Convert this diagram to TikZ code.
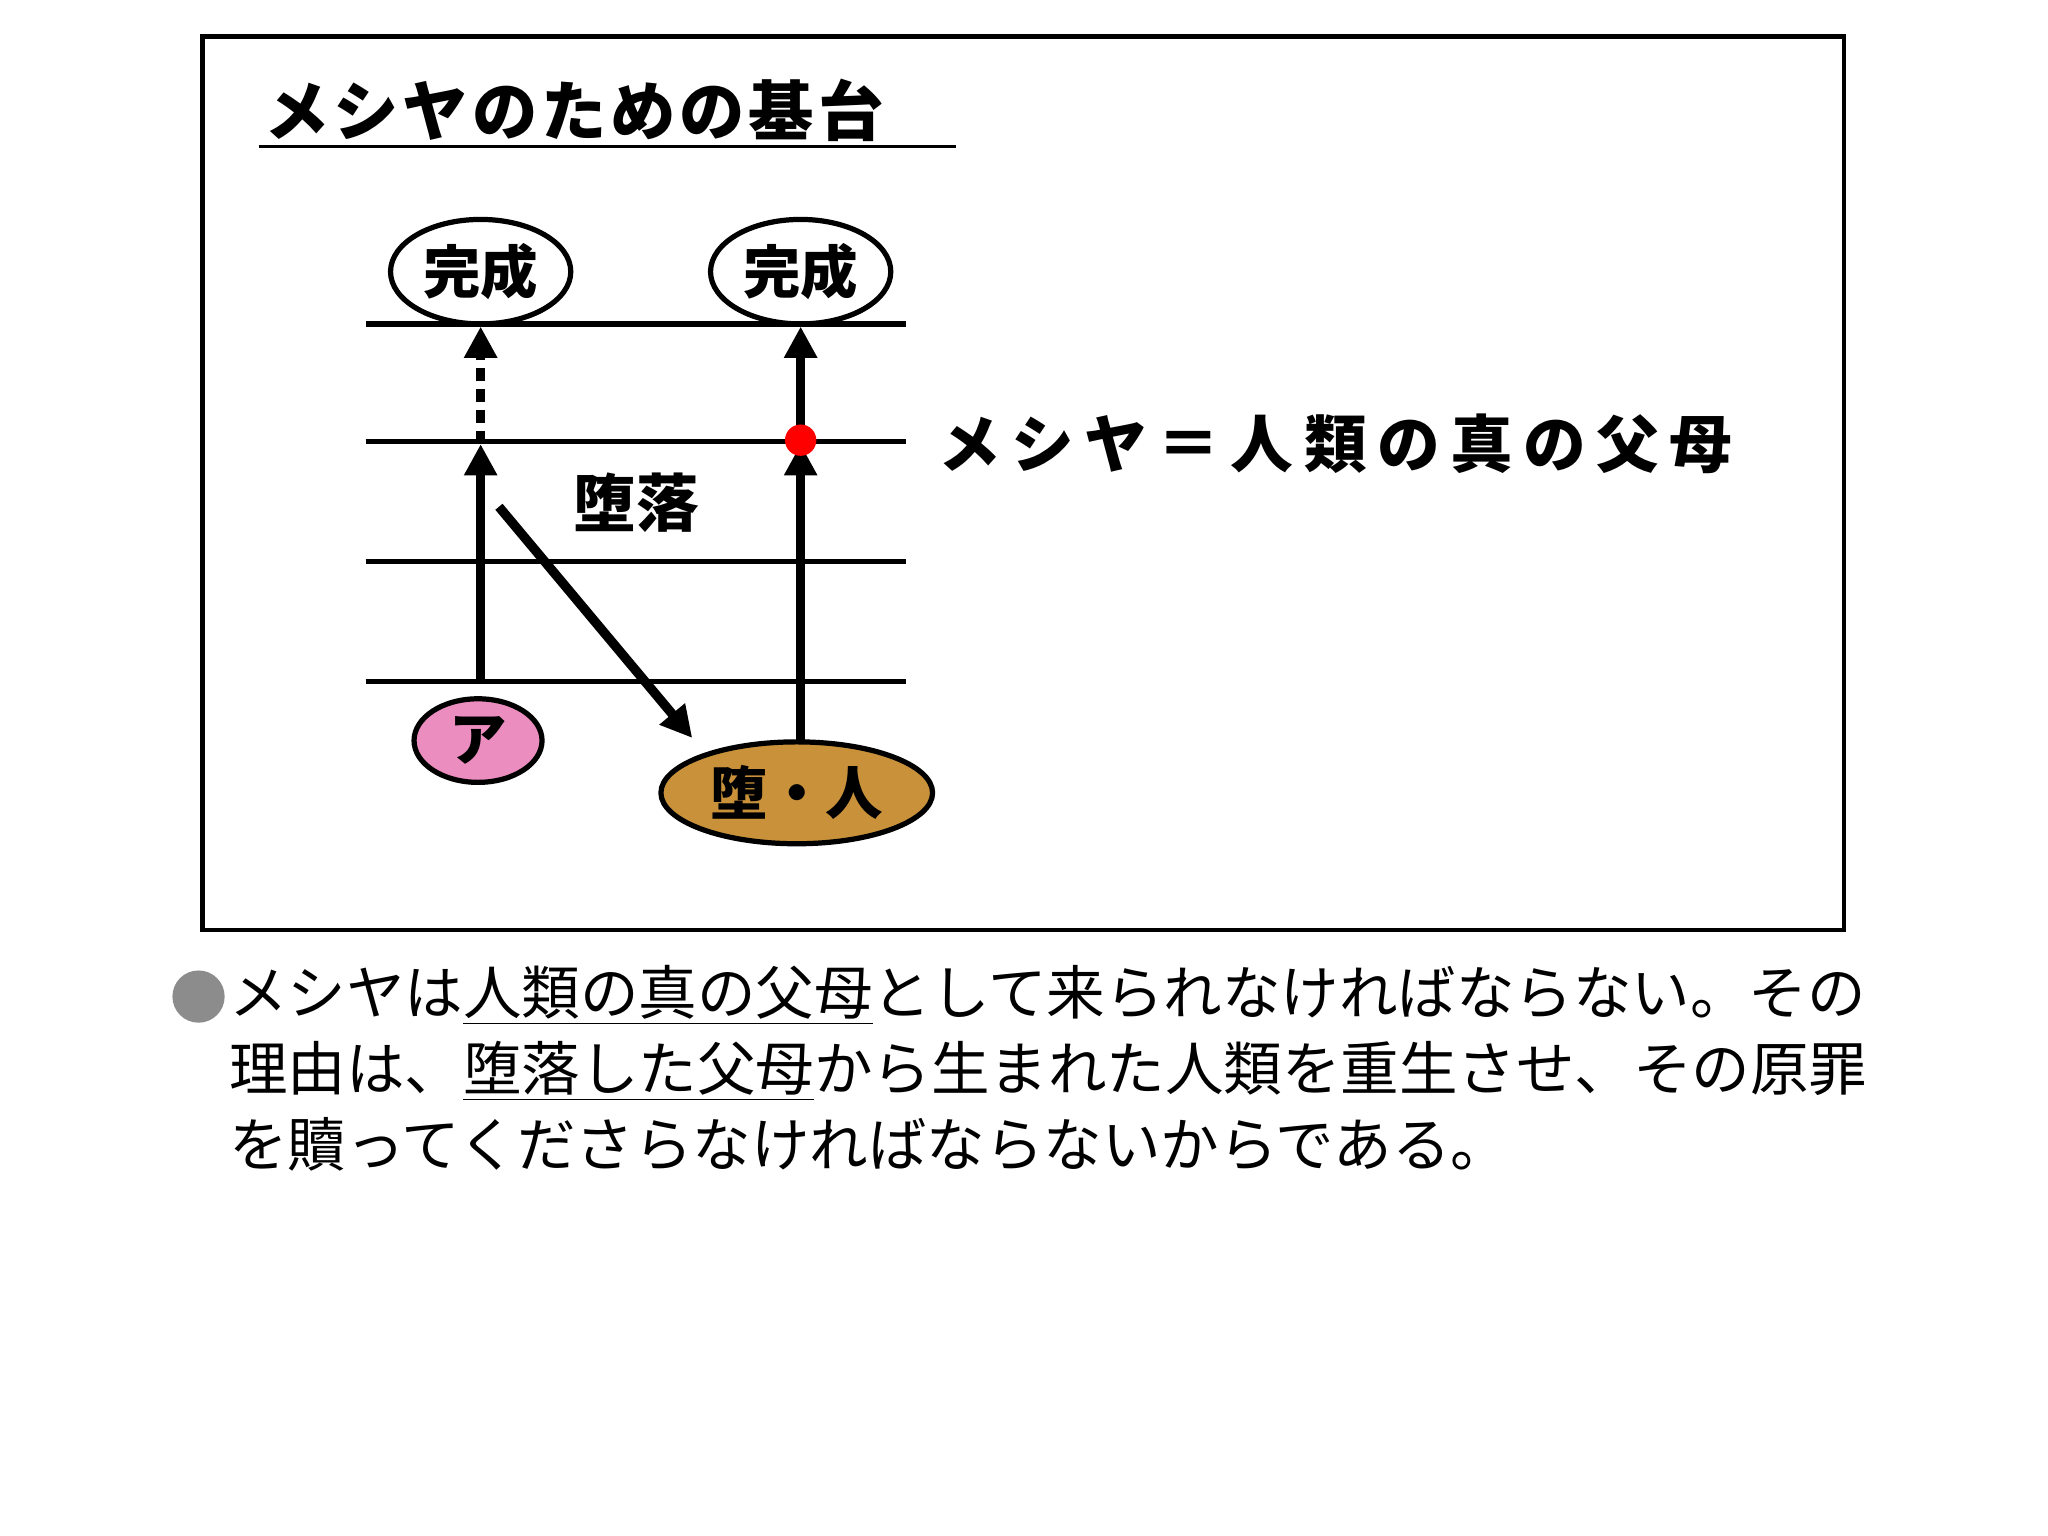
\documentclass[tikz,border=0pt]{standalone}
\usepackage{fontspec}
\newfontfamily\cjk{Noto Sans CJK JP}
\usetikzlibrary{arrows.meta}
\usetikzlibrary{shapes.geometric}
\definecolor{gold}{HTML}{C8913A}
\definecolor{pinkish}{HTML}{EC8DC0}
\tikzset{
	level/.style={line width=2pt},
	goal/.style={draw,ellipse,line width=2pt,minimum width=69pt,minimum height=40pt,inner sep=0pt,font=\cjk\bfseries\fontsize{22}{22}\selectfont},
	up/.style={line width=3.6pt,-{Triangle[width=12pt,length=12pt]}},
	body/.style={anchor=base west,inner sep=0pt,font=\cjk\fontsize{22.4}{22.4}\selectfont},
}
\begin{document}
\begin{tikzpicture}[x=0.5pt,y=-0.5pt]
	\useasboundingbox (0,0) rectangle (1568,1176);
	\fill[white] (0,0) rectangle (1568,1176);
	\draw[line width=1.6pt] (155,28) rectangle (1412,712);

	% title
	\node[anchor=base west,inner sep=0pt,font=\cjk\bfseries\fontsize{25}{25}\selectfont] (title) at (202,104) {メ\hspace{1.5pt}シ\hspace{1.5pt}ヤ\hspace{1.5pt}の\hspace{1.5pt}た\hspace{1.5pt}め\hspace{1.5pt}の\hspace{1.5pt}基\hspace{1.5pt}台};
	\draw[line width=1.2pt] (198,112) -- (732,112);

	% levels
	\foreach \y/\n in {248/a,338/b,430/c,522/d}{
		\coordinate (l\n) at (280,\y);
		\coordinate (r\n) at (694,\y);
		\draw[level] (l\n) -- (r\n);
	}

	\node[goal] (doneA) at (368,208) {完成};
	\node[goal] (doneB) at (613,208) {完成};
	\node[goal,fill=pinkish,minimum width=49pt,minimum height=32pt] (adam) at (366,567) {ア};
	\node[goal,fill=gold,minimum width=104pt,minimum height=39pt] (fallen) at (610,607) {堕・人};

	\coordinate (a0) at (368,522);
	\coordinate (a1) at (368,340);
	\coordinate (a2) at (368,250);
	\coordinate (b0) at (613,570);
	\coordinate (b1) at (613,340);
	\coordinate (b2) at (613,250);
	\draw[up] (a0) -- (a1);
	\draw[up,dashed,dash pattern=on 5pt off 3pt] (a1) -- (a2);
	\draw[up] (b0) -- (b1);
	\draw[up] (b1) -- (b2);
	\fill[red] (613,337) circle (6pt);
	\draw[up] (382,388) -- (530,565);

	\node[font=\cjk\bfseries\fontsize{24}{24}\selectfont] (fall) at (487,385) {堕落};
	\node[anchor=west,inner sep=0pt,font=\cjk\bfseries\fontsize{24}{24}\selectfont] (messiah) at (718,340) {メ\hspace{4pt}シ\hspace{4pt}ヤ\hspace{4pt}＝\hspace{4pt}人\hspace{4pt}類\hspace{4pt}の\hspace{4pt}真\hspace{4pt}の\hspace{4pt}父\hspace{4pt}母};

	% caption
	\fill[black!45] (152,763) circle (10pt);
	\node[body] (t1) at (175,777) {メシヤは\underline{人類の真の父母}として来られなければならない。その};
	\node[body] (t2) at (175,835) {理由は、\underline{堕落した父母}から生まれた人類を重生させ、その原罪};
	\node[body] (t3) at (175,893) {を贖ってくださらなければならないからである。};
\end{tikzpicture}
\end{document}
